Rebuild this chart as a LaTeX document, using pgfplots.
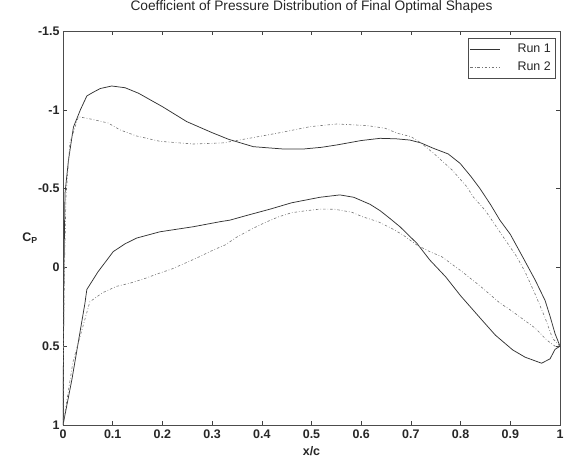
\documentclass[border=0pt]{standalone}
\usepackage{pgfplots}
\pgfplotsset{compat=1.18}
\usepackage{fontspec}
\setmainfont{Liberation Sans}

\pgfplotstableread{
x cp
1.0 0.50
0.99 0.42
0.98 0.31
0.97 0.21
0.95 0.08
0.926 -0.06
0.9 -0.21
0.879 -0.30
0.86 -0.40
0.839 -0.50
0.82 -0.58
0.799 -0.66
0.775 -0.72
0.745 -0.756
0.72 -0.79
0.698 -0.808
0.67 -0.816
0.638 -0.819
0.60 -0.805
0.551 -0.777
0.52 -0.762
0.483 -0.751
0.44 -0.752
0.383 -0.766
0.333 -0.813
0.30 -0.855
0.249 -0.925
0.20 -1.02
0.152 -1.105
0.125 -1.14
0.098 -1.151
0.075 -1.135
0.06 -1.11
0.048 -1.088
0.035 -1.0
0.021 -0.89
0.011 -0.68
0.004 -0.47
0.002 0.0
0.001 0.5
0.0 1.0
0.018 0.71
0.044 0.23
0.048 0.14
0.07 0.03
0.101 -0.10
0.125 -0.15
0.148 -0.186
0.195 -0.226
0.262 -0.258
0.316 -0.29
0.336 -0.30
0.37 -0.33
0.417 -0.37
0.46 -0.41
0.517 -0.445
0.557 -0.46
0.585 -0.445
0.618 -0.40
0.638 -0.36
0.658 -0.31
0.678 -0.258
0.712 -0.153
0.738 -0.047
0.77 0.06
0.80 0.18
0.839 0.32
0.87 0.43
0.905 0.524
0.93 0.57
0.963 0.608
0.98 0.58
0.99 0.52
1.0 0.50
}\runone

\pgfplotstableread{
x cp
1.0 0.5
0.985 0.45
0.97 0.32
0.95 0.17
0.93 0.03
0.913 -0.068
0.883 -0.206
0.865 -0.29
0.849 -0.364
0.825 -0.449
0.813 -0.51
0.783 -0.618
0.745 -0.726
0.72 -0.79
0.7 -0.83
0.674 -0.85
0.648 -0.883
0.611 -0.90
0.551 -0.91
0.497 -0.893
0.437 -0.855
0.376 -0.82
0.322 -0.79
0.262 -0.783
0.195 -0.80
0.148 -0.834
0.115 -0.872
0.091 -0.916
0.058 -0.94
0.031 -0.956
0.014 -0.79
0.006 -0.45
0.003 0.0
0.001 0.5
0.0 1.0
0.02 0.6
0.054 0.218
0.08 0.16
0.108 0.12
0.135 0.10
0.165 0.07
0.191 0.04
0.219 0.01
0.245 -0.026
0.272 -0.064
0.302 -0.11
0.326 -0.142
0.35 -0.193
0.38 -0.244
0.406 -0.284
0.433 -0.32
0.46 -0.347
0.49 -0.36
0.517 -0.37
0.547 -0.369
0.581 -0.35
0.604 -0.32
0.634 -0.29
0.661 -0.248
0.684 -0.206
0.712 -0.142
0.738 -0.10
0.762 -0.068
0.8 0.02
0.84 0.12
0.879 0.226
0.9 0.27
0.95 0.385
0.973 0.46
0.99 0.5
1.0 0.5
}\runtwo

\begin{document}
\begin{tikzpicture}
\path[use as bounding box] (-63bp,-33bp) rectangle (502bp,425bp);
\begin{axis}[
  scale only axis, width=497bp, height=394bp,
  at={(0,0)}, anchor=south west,
  xmin=0, xmax=1, ymin=-1.5, ymax=1, y dir=reverse,
  xtick={0,0.1,0.2,0.3,0.4,0.5,0.6,0.7,0.8,0.9,1},
  ytick={-1.5,-1,-0.5,0,0.5,1},
  /pgf/number format/assume math mode=true,
  tick label style={font=\fontsize{12.5}{14}\selectfont\bfseries, black!85},
  xticklabel style={yshift=-1bp},
  tick align=inside, major tick length=4bp,
  every tick/.style={black!75, line width=0.5pt},
  axis line style={black!70, line width=0.6pt},
  title={Coefficient of Pressure Distribution of Final Optimal Shapes},
  title style={at={(axis description cs:0.5,1)}, anchor=base, yshift=15bp, font=\fontsize{13.8}{15}\selectfont, black!85},
  xlabel={x/c},
  every axis x label/.style={at={(axis description cs:0.5,0)}, anchor=base, yshift=-30bp, font=\fontsize{12.5}{14}\selectfont\bfseries, black!85},
  ylabel={C$_{\mathbf{P}}$},
  every axis y label/.style={at={(axis description cs:0,0.5)}, anchor=center, xshift=-33bp, yshift=-10bp, font=\fontsize{12.5}{14}\selectfont\bfseries, black!85},
  legend style={at={(axis description cs:1,1)}, anchor=north east, xshift=-5bp, yshift=-7bp,
    draw=black!70, line width=0.5pt, font=\fontsize{12.5}{14}\selectfont, text=black!85,
    inner xsep=2bp, inner ysep=4bp, row sep=4bp, cells={anchor=west}},
  legend image code/.code={\draw[#1] (0bp,0bp) -- (30bp,0bp);},
]
\addplot[black!80, line width=0.75pt] table[x=x, y=cp] {\runone};
\addlegendentry{\hspace{15bp}Run 1}
\addplot[black!55, line width=0.6pt, dash pattern=on 2.5pt off 2pt on 0.7pt off 2pt] table[x=x, y=cp] {\runtwo};
\addlegendentry{\hspace{15bp}Run 2}
\end{axis}
\end{tikzpicture}
\end{document}
